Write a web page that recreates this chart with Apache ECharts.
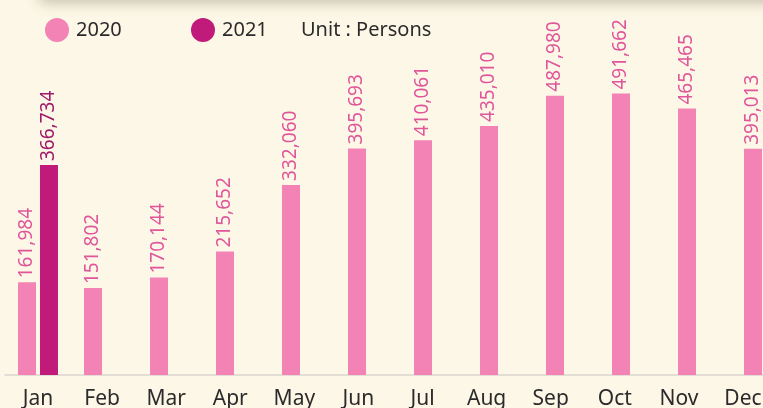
<!DOCTYPE html>
<html>
<head>
<meta charset="utf-8">
<script src="https://cdn.jsdelivr.net/npm/echarts@6/dist/echarts.min.js"></script>
<style>
  html, body { margin: 0; padding: 0; background: #fdf7e7; }
  #chart { width: 763px; height: 408px; }
</style>
</head>
<body>
<div id="chart"></div>
<script>
// Monthly visitors, unit: persons
const months = ['Jan', 'Feb', 'Mar', 'Apr', 'May', 'Jun', 'Jul', 'Aug', 'Sep', 'Oct', 'Nov', 'Dec'];
const values2020 = [161984, 151802, 170144, 215652, 332060, 395693, 410061, 435010, 487980, 491662, 465465, 395013];
const values2021 = [366734, null, null, null, null, null, null, null, null, null, null, null];

const color2020 = '#f383b5';
const color2021 = '#c01b7b';

const myChart = echarts.init(document.getElementById('chart'));

function labelFor(col) {
    return {
        show: true,
        position: 'top',
        rotate: 90,
        align: 'left',
        verticalAlign: 'middle',
        distance: 4,
        color: col,
        fontFamily: 'Noto Sans',
        fontSize: 19,
        formatter: function (p) {
            return p.value == null ? '' : p.value.toLocaleString('en-US');
        }
    };
}

const option = {
    animation: false,
    backgroundColor: '#fdf7e7',
    graphic: [{
        type: 'rect',
        shape: { x: 40, y: -30, width: 800, height: 30 },
        style: { fill: '#fdf7e7', shadowBlur: 14, shadowColor: 'rgba(120,110,90,0.45)', shadowOffsetY: 2 }
    }],
    title: {
        text: 'Unit : Persons',
        left: 296,
        top: 15,
        textStyle: { fontFamily: 'Noto Sans', fontSize: 20, fontWeight: 'normal', color: '#2b2b2b' }
    },
    legend: [{
        data: ['2020'],
        left: 40,
        top: 13,
        icon: 'circle',
        itemWidth: 24,
        itemHeight: 24,
        textStyle: { fontFamily: 'Noto Sans', fontSize: 20, color: '#2b2b2b', padding: [0, 0, 0, 2] }
    }, {
        data: ['2021'],
        left: 186,
        top: 13,
        icon: 'circle',
        itemWidth: 24,
        itemHeight: 24,
        textStyle: { fontFamily: 'Noto Sans', fontSize: 20, color: '#2b2b2b', padding: [0, 0, 0, 2] }
    }],
    grid: [{
        left: 5,
        width: 792,
        top: 31.5,
        bottom: 33,
        outerBoundsMode: 'none',
        containLabel: false
    }, {
        // month labels sit on a slightly tighter spacing than the bars
        left: 6,
        width: 769,
        top: 31.5,
        bottom: 33,
        outerBoundsMode: 'none',
        containLabel: false
    }],
    xAxis: [{
        type: 'category',
        gridIndex: 0,
        data: months,
        axisLine: { lineStyle: { color: '#d9d6cf', width: 1.5 } },
        axisTick: { show: false },
        axisLabel: { show: false }
    }, {
        type: 'category',
        gridIndex: 1,
        data: months,
        axisLine: { show: false },
        axisTick: { show: false },
        axisLabel: { color: '#2b2b2b', fontFamily: 'Noto Sans', fontSize: 21, margin: 14 }
    }],
    yAxis: [{
        type: 'value',
        gridIndex: 0,
        min: 0,
        max: 600000,
        interval: 100000,
        show: false,
        splitLine: { show: false }
    }, {
        type: 'value',
        gridIndex: 1,
        min: 0,
        max: 600000,
        interval: 100000,
        show: false,
        splitLine: { show: false }
    }],
    series: [{
        name: '2020',
        type: 'bar',
        data: values2020,
        barWidth: 18,
        barGap: '22%',
        itemStyle: { color: color2020 },
        label: labelFor('#e0569a')
    }, {
        name: '2021',
        type: 'bar',
        data: values2021,
        barWidth: 18,
        itemStyle: { color: color2021 },
        label: labelFor('#9e1a6a')
    }]
};

myChart.setOption(option);
</script>
</body>
</html>
